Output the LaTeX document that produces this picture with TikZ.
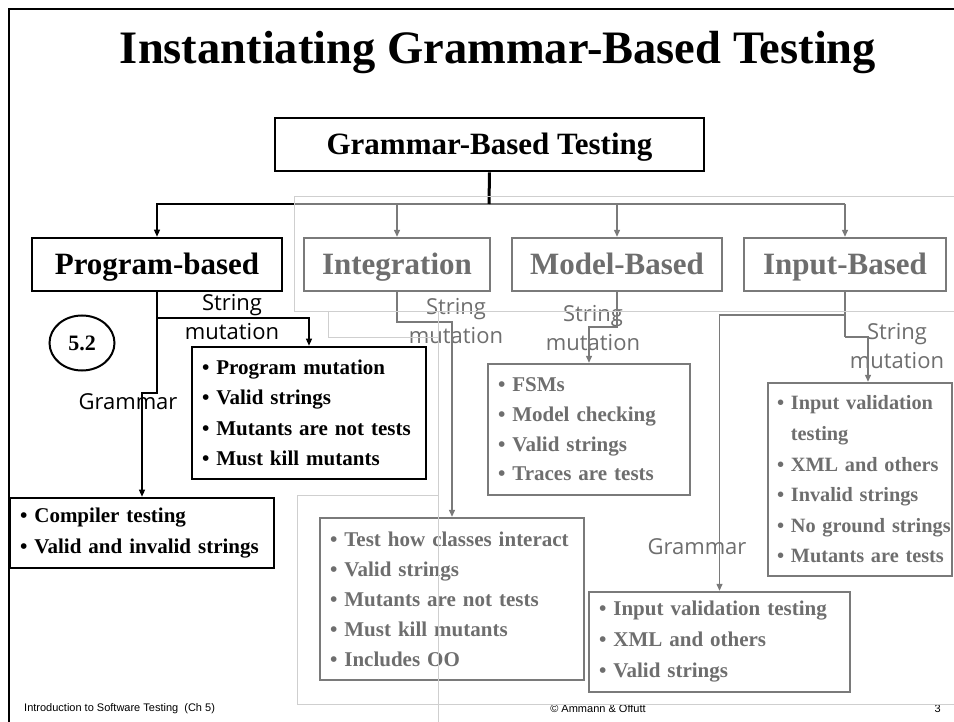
\documentclass[tikz,border=0pt]{standalone}
\usepackage{fontspec}
\setmainfont{Liberation Serif}
\newfontfamily\comicf{Open Sans}
\newfontfamily\arialf{Liberation Sans}
\usetikzlibrary{arrows.meta,shapes.geometric}
\definecolor{fade}{HTML}{6E6E6E}
\definecolor{fadeline}{HTML}{7A7A7A}
\definecolor{ghostc}{HTML}{CFCFCF}
\newcommand\bitem[1]{\mbox{\textbullet\ #1}}
\begin{document}
\begin{tikzpicture}[x=1pt,y=-1pt,
  every node/.style={inner sep=0pt},
  hdr/.style={draw=black,line width=2.6pt,font=\fontsize{31}{35}\selectfont\bfseries,minimum height=53pt,text height=26pt,text depth=5pt},
  ghdr/.style={hdr,draw=fadeline,line width=2.4pt,text=fade},
  lst/.style={draw=black,line width=2.6pt,align=left,inner xsep=10pt,font=\fontsize{21}{30.5}\selectfont\bfseries},
  glst/.style={lst,draw=fadeline,line width=2.4pt,text=fade},
  lbl/.style={font=\comicf\fontsize{22}{29}\selectfont,align=center},
  glbl/.style={lbl,text=fade},
  blk/.style={draw=black,line width=1.3pt},
  blkar/.style={blk,-{Triangle[length=7pt,width=6pt]}},
  gl/.style={draw=fadeline,line width=1.3pt},
  glar/.style={gl,-{Triangle[length=7pt,width=6pt]}},
  ghost/.style={draw=ghostc,line width=0.8pt}
]
\useasboundingbox (0,0) rectangle (954,722);
\fill[white] (0,0) rectangle (954,722);
% frame
\draw[line width=2pt] (9,722) -- (9,9) -- (954,9);

% title
\node[anchor=base,font=\fontsize{46.5}{50}\selectfont\bfseries] (title) at (498,64) {Instantiating Grammar-Based Testing};

% top level
\node[hdr,minimum width=429pt] (gbt) at (489.5,144.5) {Grammar-Based Testing};
\node[hdr,minimum width=250pt] (prog) at (157,264.5) {Program-based};
\node[ghdr,minimum width=186pt] (integ) at (397,264.5) {Integration};
\node[ghdr,minimum width=210pt] (model) at (617,264.5) {Model-Based};
\node[ghdr,minimum width=202pt] (input) at (845,264.5) {Input-Based};

% section ellipse
\node[ellipse,draw,line width=2pt,minimum width=65pt,minimum height=55pt,font=\fontsize{22}{24}\selectfont\bfseries] (sec) at (82,343) {5.2};

% detail boxes
\node[lst,minimum width=234pt,minimum height=132pt,text width=214pt] (pmut) at (309,413)
  {\bitem{Program mutation}\\\bitem{Valid strings}\\\bitem{Mutants are not tests}\\\bitem{Must kill mutants}};
\node[lst,minimum width=264pt,minimum height=70pt,text width=244pt] (comp) at (142,533)
  {\bitem{Compiler testing}\\\bitem{Valid and invalid strings}};
\node[glst,minimum width=264pt,minimum height=162pt,text width=244pt,font=\fontsize{21}{30}\selectfont\bfseries] (imut) at (452,599)
  {\bitem{Test how classes interact}\\\bitem{Valid strings}\\\bitem{Mutants are not tests}\\\bitem{Must kill mutants}\\\bitem{Includes OO}};
\node[glst,minimum width=202pt,minimum height=131pt,text width=182pt,font=\fontsize{21}{29.7}\selectfont\bfseries] (mmut) at (589,429.5)
  {\bitem{FSMs}\\\bitem{Model checking}\\\bitem{Valid strings}\\\bitem{Traces are tests}};
\node[glst,minimum width=184pt,minimum height=193pt,text width=166pt,inner xsep=9pt,font=\fontsize{20.3}{30.6}\selectfont\bfseries] (inmut) at (860,479.5)
  {\bitem{Input validation}\\\mbox{\phantom{\textbullet\ }testing}\\\bitem{XML and others}\\\bitem{Invalid strings}\\\bitem{No ground strings}\\\bitem{Mutants are tests}};
\node[glst,minimum width=261pt,minimum height=100pt,text width=241pt,font=\fontsize{21}{31}\selectfont\bfseries] (ingram) at (719.5,642)
  {\bitem{Input validation testing}\\\bitem{XML and others}\\\bitem{Valid strings}};

% edge labels
\node[lbl] (l1) at (232,317) {String\\mutation};
\node[lbl] (l2) at (128,402) {Grammar};
\node[glbl] (l3) at (456,321) {String\\mutation};
\node[glbl] (l4) at (593,328) {String\\mutation};
\node[glbl] (l5) at (897,346) {String\\mutation};
\node[glbl] (l6) at (697,547) {Grammar};

% connectors
\coordinate (j0) at (489,204);
\coordinate (jL) at (294,204);
\coordinate (jR) at (845,204);
\draw[gl] (jL) -- (jR);
\draw[draw=black,line width=3pt] (gbt.south) -- (j0);
\draw[blkar] (jL) -| (prog.north);
\draw[glar] (integ.north |- j0) -- (integ.north);
\draw[glar] (model.north |- j0) -- (model.north);
\draw[glar] (jR) -- (input.north);

\coordinate (p1) at (157,318);
\coordinate (p2) at (157,393);
\draw[blkar] (prog.south) -- (p1) -| (pmut.north);
\draw[blkar] (p1) -- (p2) -| (comp.north);

\coordinate (i1) at (397,322);
\draw[glar] (integ.south) -- (i1) -| (imut.north);
\coordinate (m1) at (617,327);
\draw[glar] (model.south) -- (m1) -| (mmut.north);
\coordinate (n1) at (845,315);
\coordinate (n2) at (845,337);
\coordinate (n3) at (868,337);
\draw[gl] (input.south) -- (n2);
\draw[glar] (n2) -- (n3) -- (n3 |- inmut.north);
\draw[glar] (n1) -| (ingram.north);

% footer
\node[anchor=west,font=\arialf\fontsize{11}{13}\selectfont] (f1) at (24,709) {Introduction to Software Testing\ \ (Ch 5)};
\node[font=\arialf\fontsize{11}{13}\selectfont] (f2) at (598,709) {© Ammann \& Offutt};
\node[anchor=east,font=\arialf\fontsize{11}{13}\selectfont] (f3) at (941,709) {3};

% faint overlay outlines
\draw[ghost] (294,311) -- (294,196) -- (954,196);
\draw[ghost] (294,311) -- (954,311);
\draw[ghost] (328,311) -- (328,337) -- (438,337);
\draw[ghost] (438,311) -- (438,722);
\draw[ghost] (438,495) -- (297,495) -- (297,704) -- (954,704);
\end{tikzpicture}
\end{document}
